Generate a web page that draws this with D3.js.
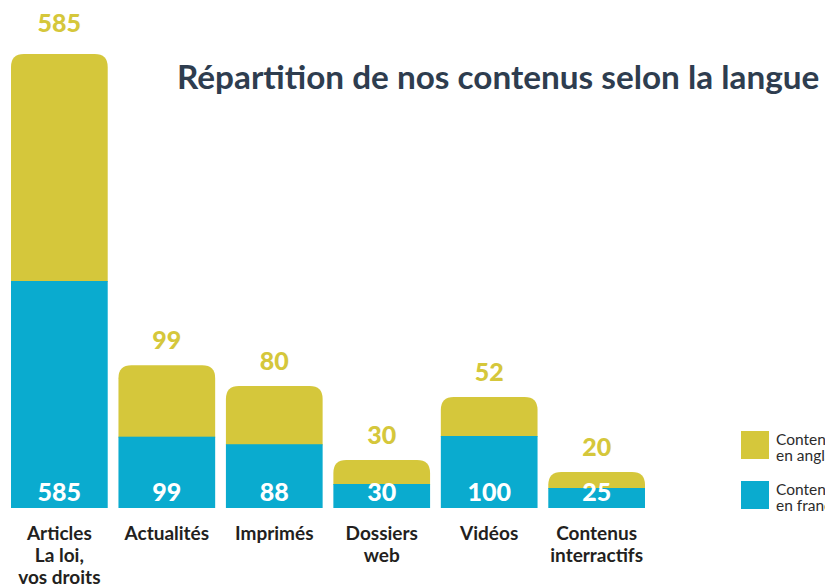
<!DOCTYPE html>
<html><head><meta charset="utf-8">
<script src="https://cdn.jsdelivr.net/npm/d3@7"></script>
<style>
html,body{margin:0;padding:0;background:#fff;}
svg{display:block;}
</style></head>
<body>
<script>
const categories = [["Articles","La loi,","vos droits"],["Actualités"],["Imprimés"],["Dossiers","web"],["Vidéos"],["Contenus","interractifs"]];
const french = [585, 99, 88, 30, 100, 25];
const english = [585, 99, 80, 30, 52, 20];
const legendLabels = [["Contenus","en anglais"],["Contenus","en français"]];
const title = "Répartition de nos contenus selon la langue";

const W = 825, H = 584;
const blue = "#0aabcf", yellow = "#d5c73b";
const svg = d3.select("body").append("svg").attr("width", W).attr("height", H);

const baseY = 508;
const x = d3.scaleBand().domain(d3.range(categories.length)).range([11, 645]).paddingInner(0.1).paddingOuter(0);
// broken (polylinear) scale: the long first bar is compressed
const h = d3.scaleLinear().domain([0, 30, 100, 585]).range([0, 24, 72, 227]);

const r = 13;
function topRounded(x0, y0, w, hh, rr) {
  rr = Math.min(rr, hh, w / 2);
  return `M${x0},${y0 + hh}V${y0 + rr}Q${x0},${y0} ${x0 + rr},${y0}H${x0 + w - rr}Q${x0 + w},${y0} ${x0 + w},${y0 + rr}V${y0 + hh}Z`;
}

const g = svg.append("g");
categories.forEach((c, i) => {
  const bx = x(i), bw = x.bandwidth();
  const hb = h(french[i]), hy = h(english[i]);
  const yb = baseY - hb, yy = yb - hy;
  g.append("path").attr("d", topRounded(bx, yy, bw, hy + 1, r)).attr("fill", yellow);
  g.append("rect").attr("x", bx).attr("y", yb).attr("width", bw).attr("height", hb).attr("fill", blue);
  g.append("text").attr("x", bx + bw / 2).attr("y", yy - (i === 0 ? 22 : 16)).attr("text-anchor", "middle")
    .attr("font-family", "Lato").attr("font-weight", 900).attr("font-size", 25).attr("fill", yellow)
    .text(english[i]);
  g.append("text").attr("x", bx + bw / 2).attr("y", baseY - 7).attr("text-anchor", "middle")
    .attr("font-family", "Lato").attr("font-weight", 900).attr("font-size", 25).attr("fill", "#fff")
    .text(french[i]);
  const t = g.append("text").attr("text-anchor", "middle")
    .attr("font-family", "Lato").attr("font-weight", 700).attr("font-size", 19).attr("fill", "#231f20");
  c.forEach((line, j) => {
    t.append("tspan").attr("x", bx + bw / 2).attr("y", 540 + j * 22).text(line);
  });
});

svg.append("text").attr("x", 177).attr("y", 89)
  .attr("font-family", "Lato").attr("font-weight", 700).attr("font-size", 33.3).attr("fill", "#2e3d4f")
  .text(title);

const legColors = [yellow, blue];
legendLabels.forEach((lab, i) => {
  const ly = 431 + i * 50;
  svg.append("rect").attr("x", 741).attr("y", ly).attr("width", 28).attr("height", 28).attr("fill", legColors[i]);
  const t = svg.append("text").attr("font-family", "Lato").attr("font-size", 15.5).attr("fill", "#2b2b2b");
  lab.forEach((line, j) => t.append("tspan").attr("x", 776).attr("y", ly + 14 + j * 16).text(line));
});
</script>
</body></html>
